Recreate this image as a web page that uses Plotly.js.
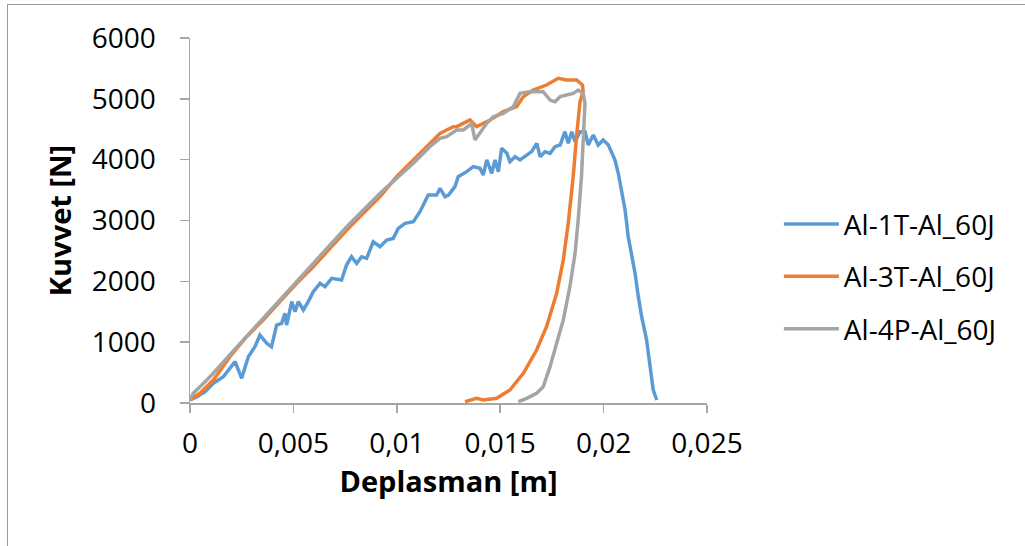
<!DOCTYPE html>
<html>
<head>
<meta charset="utf-8">
<script src="https://cdn.plot.ly/plotly-3.0.1.min.js"></script>
<style>
html,body{margin:0;padding:0;background:#fff;}
#chart{position:absolute;left:0;top:0;width:1025px;height:546px;}
#frame{position:absolute;left:7px;top:4px;width:1040px;height:560px;border:1px solid #9a9a9a;pointer-events:none;}
</style>
</head>
<body>
<div id="chart"></div>
<div id="frame"></div>
<script>
const seriesNames = ["Al-1T-Al_60J", "Al-3T-Al_60J", "Al-4P-Al_60J"];

const x1T = [0,0.00032,0.00073,0.00113,0.00161,0.00218,0.0025,0.00282,0.00314,0.00338,0.00371,0.00394,0.00419,0.00443,0.00459,0.00467,0.00492,0.00508,0.00524,0.00548,0.00572,0.00596,0.00629,0.00653,0.00685,0.00733,0.00757,0.00781,0.00806,0.0083,0.00854,0.00886,0.00919,0.00951,0.00983,0.01007,0.0104,0.0108,0.01112,0.01152,0.01193,0.01209,0.01233,0.0125,0.01281,0.01297,0.01338,0.0137,0.01402,0.01418,0.01435,0.01459,0.01475,0.01491,0.01507,0.01532,0.01547,0.01572,0.01596,0.01628,0.01652,0.01677,0.01693,0.01717,0.01741,0.01765,0.0179,0.01813,0.01829,0.01846,0.01862,0.01886,0.0191,0.01926,0.0195,0.01974,0.01998,0.02023,0.02039,0.02055,0.02071,0.02087,0.02104,0.02119,0.02136,0.02152,0.02168,0.02184,0.02208,0.02224,0.0224,0.02257];
const y1T = [50,100,186,324,432,679,406,761,925,1118,981,925,1282,1310,1475,1282,1666,1502,1666,1529,1666,1830,1967,1912,2049,2022,2268,2405,2296,2405,2378,2651,2569,2679,2706,2871,2953,2980,3145,3419,3419,3529,3392,3419,3556,3721,3803,3885,3858,3748,3995,3776,3995,3803,4187,4104,3967,4049,3995,4077,4132,4269,4049,4132,4104,4214,4241,4460,4269,4460,4296,4460,4460,4241,4405,4241,4323,4241,4132,3995,3776,3447,3173,2734,2460,2132,1748,1419,1036,597,214,50];

const x3T = [0,0.00048,0.00113,0.00193,0.00274,0.00354,0.00435,0.00516,0.00596,0.00677,0.00758,0.00838,0.00919,0.00999,0.0108,0.0116,0.01209,0.01241,0.01273,0.0129,0.01346,0.01354,0.0137,0.01386,0.01451,0.01515,0.0158,0.01612,0.01659,0.01724,0.01781,0.01821,0.01869,0.01898,0.01901,0.01886,0.01869,0.01853,0.01829,0.01805,0.01773,0.01724,0.01676,0.01612,0.01547,0.01483,0.01418,0.01386,0.0133];
const y3T = [50,159,378,761,1090,1364,1666,1967,2241,2542,2844,3118,3392,3721,3995,4269,4433,4488,4543,4543,4652,4652,4597,4543,4652,4789,4871,5036,5145,5227,5337,5310,5310,5227,5118,4953,4378,3721,2953,2350,1803,1255,871,488,214,77,50,77,22];

const x4P = [0,0.00016,0.00057,0.00105,0.00177,0.00274,0.00435,0.00596,0.00758,0.00919,0.0108,0.0116,0.01209,0.01241,0.0129,0.01322,0.01362,0.01378,0.01402,0.0141,0.01435,0.01467,0.01515,0.01563,0.01596,0.01644,0.01708,0.01741,0.01765,0.0179,0.01821,0.01853,0.01877,0.01901,0.0191,0.01901,0.01893,0.01877,0.01862,0.01837,0.01805,0.01773,0.01741,0.01708,0.01676,0.01628,0.01588];
const y4P = [50,159,296,460,734,1090,1693,2296,2898,3447,3940,4214,4351,4378,4488,4488,4597,4323,4433,4488,4597,4707,4762,4871,5090,5118,5118,4980,4953,5036,5063,5090,5145,5090,4926,4323,3721,3008,2460,1913,1364,981,597,268,159,77,22];

const xTickVals = [0,0.005,0.01,0.015,0.02,0.025];
const xTickText = ["0","0,005","0,01","0,015","0,02","0,025"];
const yTickVals = [0,1000,2000,3000,4000,5000,6000];

const colors = ["#5B9BD5","#ED7D31","#A5A5A5"];
const FONT = "Open Sans, sans-serif";

const traces = [
  {x:x1T, y:y1T, name:seriesNames[0], legendgroup:"a", mode:"lines", line:{color:colors[0], width:3.5}},
  {x:x3T, y:y3T, name:seriesNames[1], legendgroup:"b", mode:"lines", line:{color:colors[1], width:3.5}},
  {x:x4P, y:y4P, name:seriesNames[2], legendgroup:"c", mode:"lines", line:{color:colors[2], width:3.5}}
];

const layout = {
  width:1025, height:546,
  margin:{l:190, r:318, t:38, b:143},
  paper_bgcolor:"#fff", plot_bgcolor:"#fff",
  font:{family:FONT, size:28, color:"#000"},
  showlegend:true,
  legend:{x:1.139, xanchor:"left", y:0.346, yanchor:"middle", itemwidth:55,
          font:{family:FONT, size:28, color:"#000"}, tracegroupgap:13, bgcolor:"rgba(0,0,0,0)"},
  xaxis:{
    range:[0,0.025], tickvals:xTickVals, ticktext:xTickText,
    showgrid:false, zeroline:false, showline:true, linecolor:"#a6a6a6", linewidth:1.5,
    ticks:"outside", ticklen:8, tickcolor:"#a6a6a6", tickwidth:1.5, ticklabelstandoff:7,
    title:{text:"<b>Deplasman [m]</b>", font:{family:FONT, size:29, color:"#000"}, standoff:9},
    automargin:false
  },
  yaxis:{
    range:[0,6000], tickvals:yTickVals,
    showgrid:false, zeroline:false, showline:true, linecolor:"#a6a6a6", linewidth:1.5,
    ticks:"outside", ticklen:9, tickcolor:"#a6a6a6", tickwidth:1.5, ticklabelstandoff:18,
    title:{text:"<b>Kuvvet [N]</b>", font:{family:FONT, size:29, color:"#000"}, standoff:11},
    automargin:false
  }
};

Plotly.newPlot("chart", traces, layout, {displayModeBar:false, staticPlot:true});
</script>
</body>
</html>
